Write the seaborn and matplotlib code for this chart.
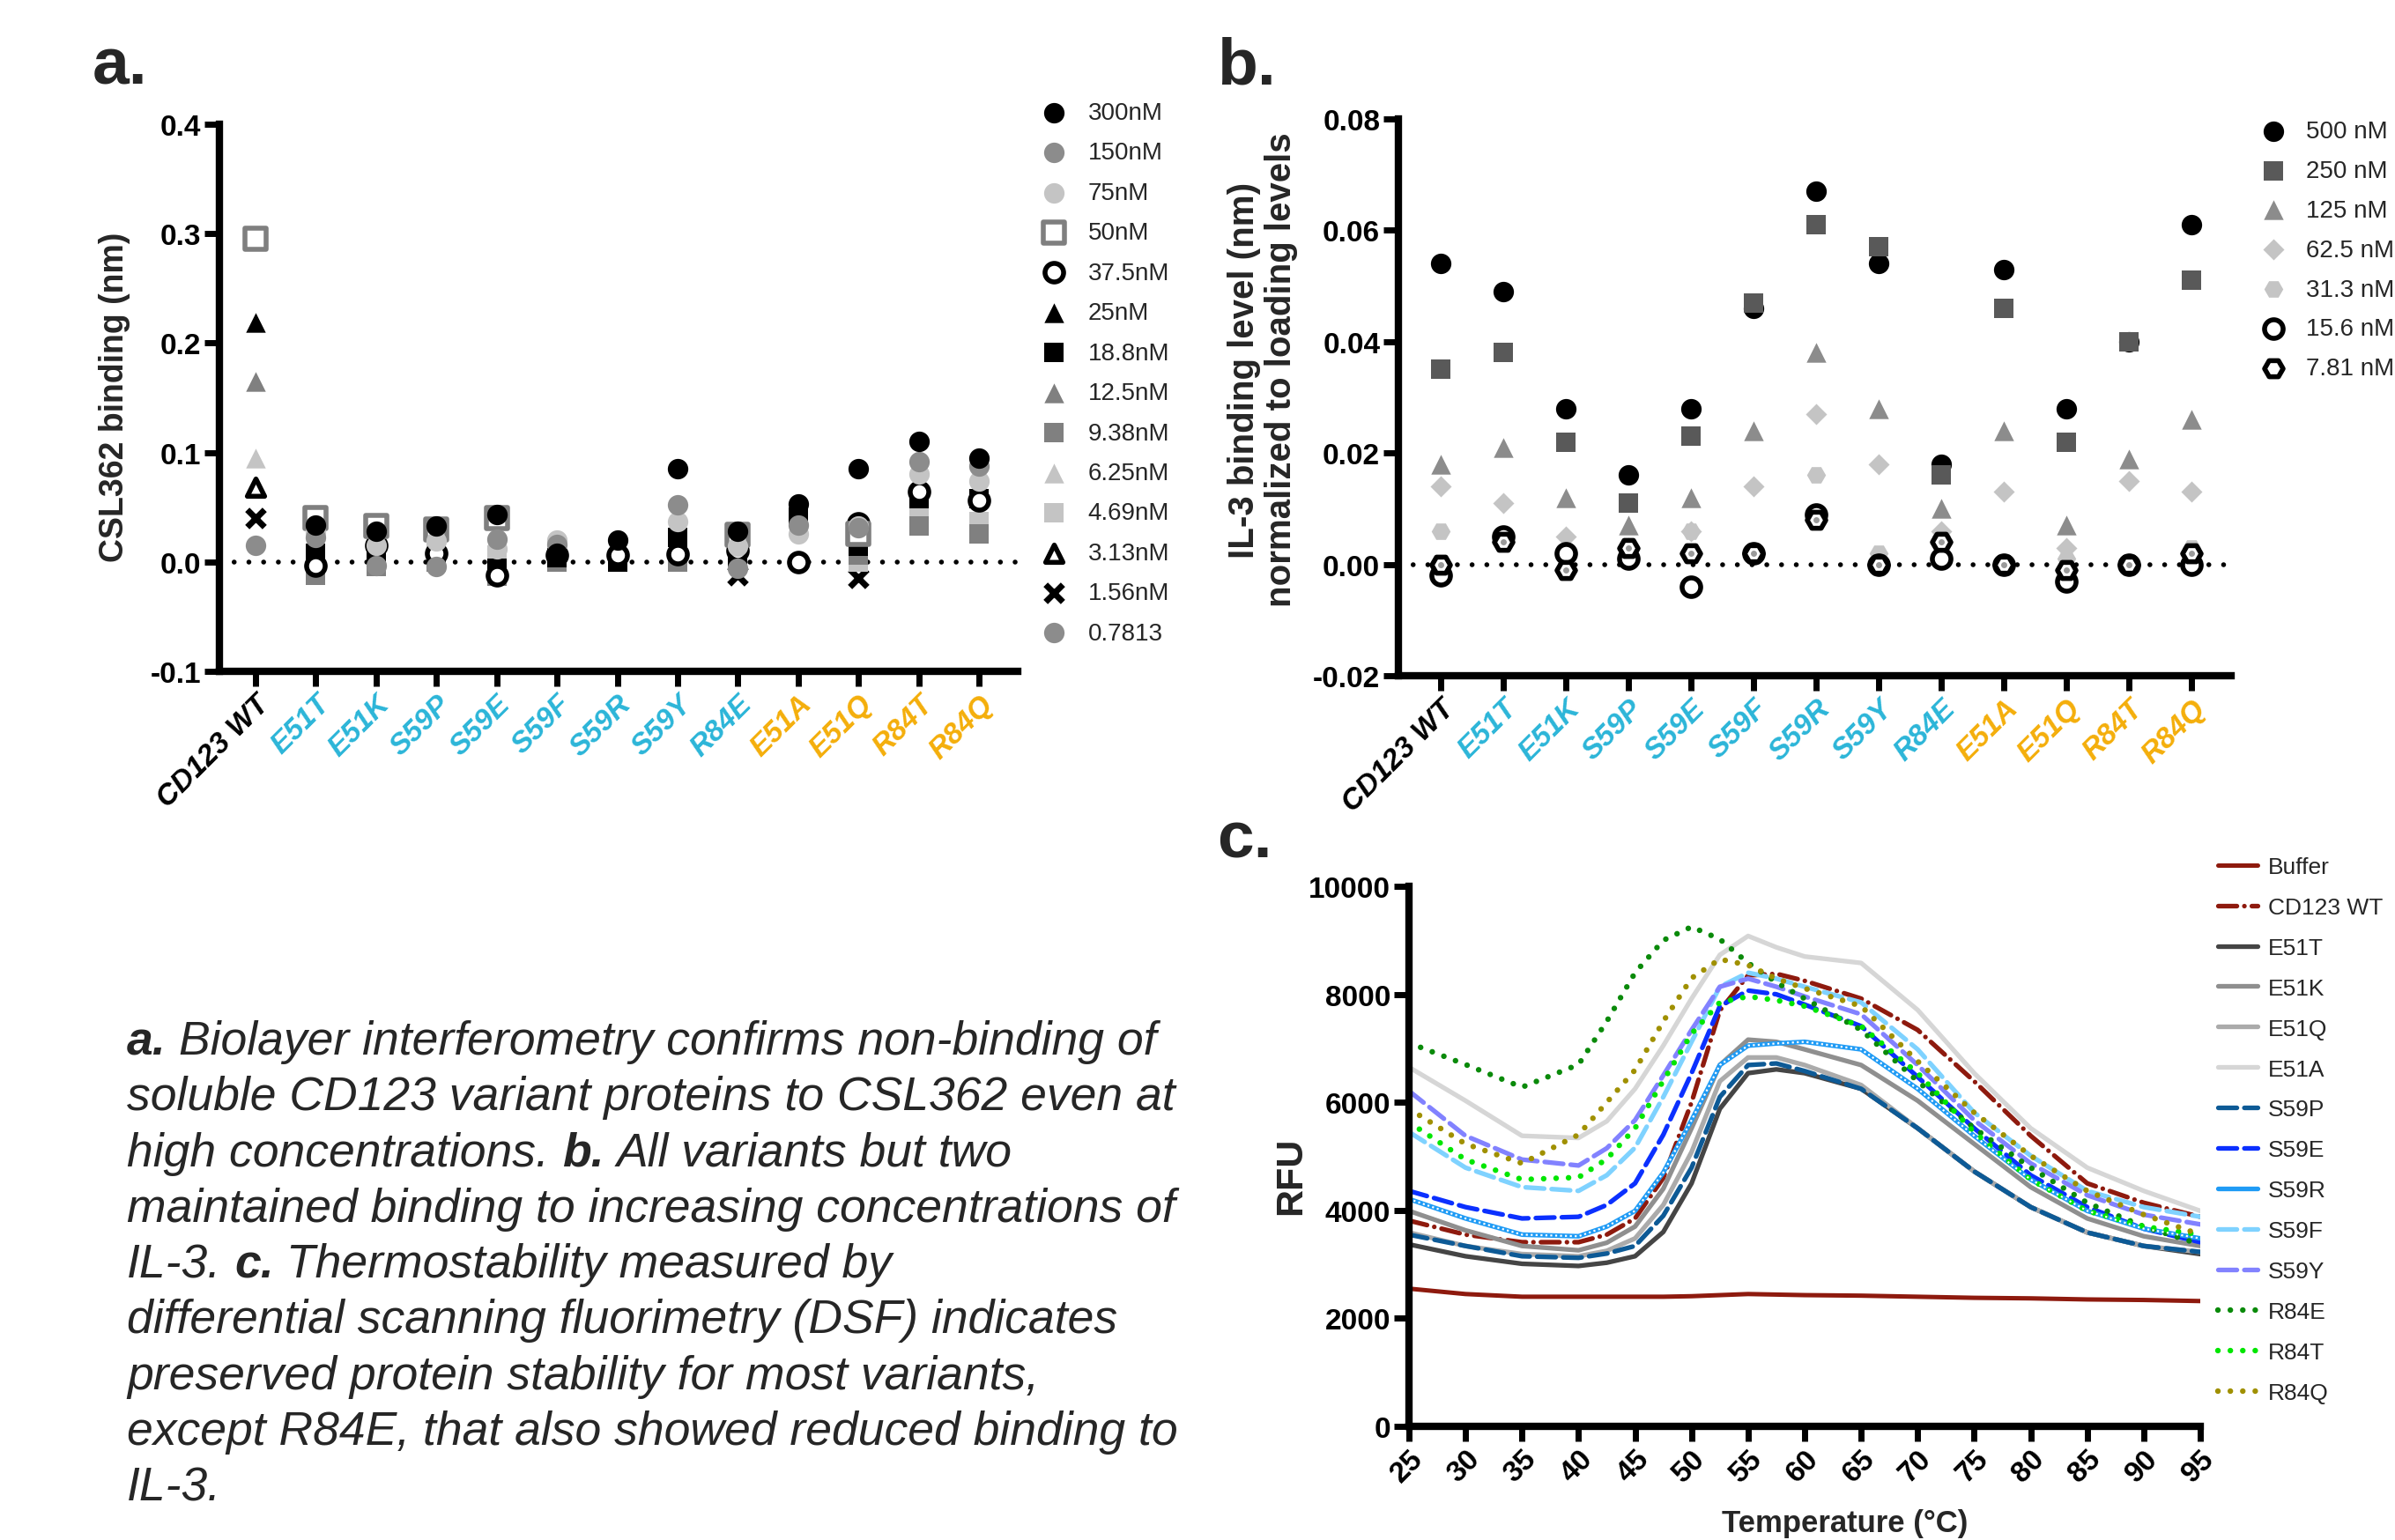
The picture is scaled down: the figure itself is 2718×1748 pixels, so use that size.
import numpy as np
import matplotlib
matplotlib.use("Agg")
import matplotlib.pyplot as plt
import seaborn as sns

nan = np.nan

# ---------------- shared categories (panels a and b) ----------------
variants = ["CD123 WT", "E51T", "E51K", "S59P", "S59E", "S59F", "S59R",
            "S59Y", "R84E", "E51A", "E51Q", "R84T", "R84Q"]

# ---------------- panel a: CSL362 binding (nm) ----------------
conc_a = ["300nM", "150nM", "75nM", "50nM", "37.5nM", "25nM", "18.8nM",
          "12.5nM", "9.38nM", "6.25nM", "4.69nM", "3.13nM", "1.56nM", "0.7813"]
bli_300nM = [nan, 0.034, 0.028, 0.033, 0.043, 0.008, 0.020, 0.085, 0.028, 0.053, 0.085, 0.110, 0.095]
bli_150nM = [nan, 0.022, -0.003, -0.004, 0.021, 0.016, nan, 0.052, -0.006, 0.034, 0.031, 0.092, 0.088]
bli_75nM = [nan, 0.027, 0.015, 0.019, 0.012, 0.020, nan, 0.037, 0.014, 0.026, 0.033, 0.080, 0.074]
bli_50nM = [0.295, 0.040, 0.033, 0.030, 0.040, nan, nan, nan, 0.025, nan, 0.026, nan, nan]
bli_37_5nM = [nan, -0.003, 0.015, 0.008, -0.012, 0.006, 0.006, 0.007, 0.010, 0.000, 0.035, 0.064, 0.056]
bli_25nM = [0.219, nan, nan, nan, nan, nan, nan, nan, nan, nan, nan, nan, nan]
bli_18_8nM = [nan, 0.008, 0.005, 0.004, -0.006, 0.004, 0.000, 0.022, 0.005, 0.041, 0.014, 0.058, 0.058]
bli_12_5nM = [0.165, nan, nan, nan, nan, nan, nan, nan, nan, nan, nan, nan, nan]
bli_9_38nM = [nan, -0.012, -0.004, 0.000, -0.013, 0.000, nan, 0.000, 0.020, nan, 0.006, 0.033, 0.026]
bli_6_25nM = [0.095, nan, nan, nan, nan, nan, nan, nan, nan, nan, nan, nan, nan]
bli_4_69nM = [nan, 0.001, 0.000, 0.010, 0.006, 0.001, nan, 0.000, 0.010, nan, 0.000, 0.045, 0.037]
bli_3_13nM = [0.068, nan, nan, nan, nan, nan, nan, nan, nan, nan, nan, nan, nan]
bli_1_56nM = [0.040, nan, nan, nan, nan, nan, nan, nan, -0.012, nan, -0.015, nan, nan]
bli_0_78nM = [0.015, nan, nan, nan, nan, nan, nan, nan, nan, nan, nan, nan, nan]
yticks_a = [-0.1, 0.0, 0.1, 0.2, 0.3, 0.4]

# ---------------- panel b: IL-3 binding level ----------------
conc_b = ["500 nM", "250 nM", "125 nM", "62.5 nM", "31.3 nM", "15.6 nM", "7.81 nM"]
il3_500nM = [0.054, 0.049, 0.028, 0.016, 0.028, 0.046, 0.067, 0.054, 0.018, 0.053, 0.028, 0.040, 0.061]
il3_250nM = [0.035, 0.038, 0.022, 0.011, 0.023, 0.047, 0.061, 0.057, 0.016, 0.046, 0.022, 0.040, 0.051]
il3_125nM = [0.018, 0.021, 0.012, 0.007, 0.012, 0.024, 0.038, 0.028, 0.010, 0.024, 0.007, 0.019, 0.026]
il3_62_5nM = [0.014, 0.011, 0.005, 0.003, 0.006, 0.014, 0.027, 0.018, 0.006, 0.013, 0.003, 0.015, 0.013]
il3_31_3nM = [0.006, 0.005, 0.002, 0.003, 0.006, 0.002, 0.016, 0.002, 0.005, 0.000, 0.001, 0.000, 0.003]
il3_15_6nM = [-0.002, 0.005, 0.002, 0.001, -0.004, 0.002, 0.009, 0.000, 0.001, 0.000, -0.003, 0.000, 0.000]
il3_7_81nM = [0.000, 0.004, -0.001, 0.003, 0.002, 0.002, 0.008, 0.000, 0.004, 0.000, -0.001, 0.000, 0.002]
yticks_b = [-0.02, 0.00, 0.02, 0.04, 0.06, 0.08]

# ---------------- panel c: DSF melt curves (RFU) ----------------
temps = [25, 30, 35, 40, 42.5, 45, 47.5, 50, 52.5, 55, 57.5, 60, 65, 70, 75, 80, 85, 90, 95]
dsf_buffer = [2550, 2450, 2400, 2400, 2400, 2400, 2400, 2410, 2430, 2450, 2440, 2430, 2420, 2400, 2380, 2370, 2350, 2340, 2320]
dsf_wt = [3810, 3550, 3410, 3410, 3550, 3850, 4600, 6000, 7700, 8350, 8380, 8250, 7920, 7340, 6390, 5380, 4500, 4140, 3880]
dsf_e51t = [3370, 3150, 3010, 2970, 3030, 3150, 3600, 4500, 5880, 6540, 6610, 6540, 6250, 5520, 4720, 4060, 3590, 3340, 3190]
dsf_e51k = [3990, 3630, 3340, 3260, 3400, 3700, 4400, 5520, 6690, 7160, 7120, 6980, 6690, 6030, 5230, 4430, 3850, 3520, 3340]
dsf_e51q = [3590, 3340, 3190, 3150, 3250, 3480, 4100, 5080, 6390, 6830, 6830, 6690, 6320, 5520, 4720, 4060, 3590, 3340, 3230]
dsf_e51a = [6650, 6030, 5380, 5340, 5650, 6250, 7050, 7920, 8730, 9080, 8870, 8700, 8580, 7710, 6540, 5520, 4790, 4360, 3990]
dsf_s59p = [3550, 3340, 3150, 3120, 3200, 3340, 3900, 4790, 6100, 6690, 6720, 6580, 6250, 5520, 4720, 4060, 3590, 3340, 3230]
dsf_s59e = [4360, 4060, 3850, 3880, 4100, 4500, 5400, 6540, 7780, 8070, 8000, 7810, 7410, 6470, 5520, 4650, 4060, 3660, 3410]
dsf_s59r = [4210, 3850, 3550, 3520, 3700, 3990, 4700, 5670, 6690, 7050, 7090, 7120, 6980, 6250, 5380, 4570, 3990, 3660, 3480]
dsf_s59f = [5450, 4790, 4430, 4360, 4650, 5160, 6100, 7120, 8140, 8400, 8290, 8140, 7850, 6980, 5810, 5010, 4360, 4060, 3880]
dsf_s59y = [6210, 5380, 4940, 4830, 5150, 5670, 6500, 7340, 8140, 8290, 8140, 7960, 7630, 6690, 5670, 4870, 4280, 3920, 3740]
dsf_r84e = [7100, 6700, 6280, 6700, 7500, 8400, 9000, 9250, 9020, 8580, 8220, 7920, 7340, 6390, 5520, 4790, 4140, 3700, 3370]
dsf_r84t = [5630, 4940, 4570, 4610, 4950, 5520, 6400, 7270, 7850, 7960, 7890, 7780, 7410, 6540, 5450, 4570, 3990, 3700, 3550]
dsf_r84q = [5880, 5230, 4870, 5400, 6000, 6600, 7500, 8300, 8650, 8540, 8290, 8110, 7780, 6760, 5810, 5010, 4360, 3920, 3550]
samples_c = ["Buffer", "CD123 WT", "E51T", "E51K", "E51Q", "E51A", "S59P",
             "S59E", "S59R", "S59F", "S59Y", "R84E", "R84T", "R84Q"]

caption_lines = [
    [("a.", True), ("Biolayer interferometry confirms non-binding of", False)],
    [("soluble CD123 variant proteins to CSL362 even at", False)],
    [("high concentrations.", False), ("b.", True), ("All variants but two", False)],
    [("maintained binding to increasing concentrations of", False)],
    [("IL-3.", False), ("c.", True), ("Thermostability measured by", False)],
    [("differential scanning fluorimetry (DSF) indicates", False)],
    [("preserved protein stability for most variants,", False)],
    [("except R84E, that also showed reduced binding to", False)],
    [("IL-3.", False)],
]

# ---------------- styling ----------------
sns.set_theme(style="ticks")
plt.rcParams["font.family"] = ["Liberation Sans", "DejaVu Sans"]
NARROW = ["Liberation Sans Narrow", "Liberation Sans", "DejaVu Sans"]
CYAN = "#2bb5d8"
ORANGE = "#f4ae0a"
label_colors = ["black"] + [CYAN] * 8 + [ORANGE] * 4

W, H = 2718, 1749
TICK_FS = 24

style_a = {
    "300nM": dict(marker="o", color="black", s=280, linewidth=0),
    "150nM": dict(marker="o", color="#8c8c8c", s=280, linewidth=0),
    "75nM": dict(marker="o", color="#c4c4c4", s=280, linewidth=0),
    "50nM": dict(marker="s", color="white", edgecolor="#7f7f7f", s=300, linewidth=4),
    "37.5nM": dict(marker="o", color="white", edgecolor="black", s=230, linewidth=4),
    "25nM": dict(marker="^", color="black", s=260, linewidth=0),
    "18.8nM": dict(marker="s", color="black", s=250, linewidth=0),
    "12.5nM": dict(marker="^", color="#808080", s=260, linewidth=0),
    "9.38nM": dict(marker="s", color="#808080", s=250, linewidth=0),
    "6.25nM": dict(marker="^", color="#c4c4c4", s=260, linewidth=0),
    "4.69nM": dict(marker="s", color="#c4c4c4", s=250, linewidth=0),
    "3.13nM": dict(marker="^", color="white", edgecolor="black", s=200, linewidth=4),
    "1.56nM": dict(marker="x", color="black", s=200, linewidth=5),
    "0.7813": dict(marker="o", color="#8c8c8c", s=280, linewidth=0),
}
series_a = [bli_300nM, bli_150nM, bli_75nM, bli_50nM, bli_37_5nM, bli_25nM, bli_18_8nM,
            bli_12_5nM, bli_9_38nM, bli_6_25nM, bli_4_69nM, bli_3_13nM, bli_1_56nM, bli_0_78nM]

style_b = {
    "500 nM": dict(marker="o", color="black", s=280, linewidth=0),
    "250 nM": dict(marker="s", color="#595959", s=260, linewidth=0),
    "125 nM": dict(marker="^", color="#8c8c8c", s=260, linewidth=0),
    "62.5 nM": dict(marker="D", color="#c4c4c4", s=150, linewidth=0),
    "31.3 nM": dict(marker="H", color="#c4c4c4", s=240, linewidth=0),
    "15.6 nM": dict(marker="o", color="white", edgecolor="black", s=230, linewidth=4),
    "7.81 nM": dict(marker="H", color="white", edgecolor="black", s=230, linewidth=4),
}
series_b = [il3_500nM, il3_250nM, il3_125nM, il3_62_5nM, il3_31_3nM, il3_15_6nM, il3_7_81nM]

DOT = (0, (0.01, 2.2))
DASH = (0, (4, 1.6))
DASHDOT = (0, (4, 1.6, 0.01, 1.6))
style_c = {
    "Buffer": dict(color="#8e1a0e", ls="-", lw=3.6),
    "CD123 WT": dict(color="#8e1a0e", ls=DASHDOT, lw=3.8),
    "E51T": dict(color="#454545", ls="-", lw=3.8),
    "E51K": dict(color="#8f8f8f", ls="-", lw=3.8),
    "E51Q": dict(color="#ababab", ls="-", lw=3.8),
    "E51A": dict(color="#d6d6d6", ls="-", lw=3.8),
    "S59P": dict(color="#0d5a96", ls=DASH, lw=3.8),
    "S59E": dict(color="#0b30ff", ls=DASH, lw=3.8),
    "S59R": dict(color="#1f9bf5", ls="-", lw=3.8),
    "S59F": dict(color="#7fd2ff", ls=DASH, lw=3.8),
    "S59Y": dict(color="#8282ff", ls=DASH, lw=3.8),
    "R84E": dict(color="#0a8a0a", ls=DOT, lw=4.6),
    "R84T": dict(color="#00e600", ls=DOT, lw=4.6),
    "R84Q": dict(color="#a09000", ls=DOT, lw=4.6),
}
series_c = [dsf_buffer, dsf_wt, dsf_e51t, dsf_e51k, dsf_e51q, dsf_e51a, dsf_s59p,
            dsf_s59e, dsf_s59r, dsf_s59f, dsf_s59y, dsf_r84e, dsf_r84t, dsf_r84q]


def axes_box(left, top, right, bottom):
    # pixel box -> figure fraction [l, b, w, h]
    return [left / W, 1 - bottom / H, (right - left) / W, (bottom - top) / H]


def finish_axes(ax):
    sns.despine(ax=ax)
    for side in ("left", "bottom"):
        ax.spines[side].set_linewidth(6)
        ax.spines[side].set_color("black")
    ax.tick_params(axis="both", width=5, length=12, labelsize=TICK_FS, pad=3,
                   color="black", labelcolor="black")
    ax.grid(False)


def zero_line(ax):
    ax.axhline(0, color="black", lw=4, ls=(0, (0.01, 3.0)),
               dash_capstyle="round", zorder=1)


def variant_ticks(ax):
    x = np.arange(len(variants))
    ax.set_xticks(x)
    ax.set_xticklabels(variants, rotation=45, ha="right", rotation_mode="anchor",
                       fontsize=TICK_FS, fontweight="bold", fontstyle="italic")
    for lab, c in zip(ax.get_xticklabels(), label_colors):
        lab.set_color(c)


fig = plt.figure(figsize=(W / 100, H / 100), dpi=100)
x_pos = np.arange(len(variants))

# ---------------- panel a ----------------
ax_a = fig.add_axes(axes_box(249, 142, 1155, 763))
zero_line(ax_a)
# highest concentration ends up on top, as in the original
for label, vals in reversed(list(zip(conc_a, series_a))):
    sns.scatterplot(x=x_pos, y=vals, ax=ax_a, label=label, zorder=3, **style_a[label])
ax_a.set_xlim(-0.6, 12.64)
ax_a.set_ylim(-0.1, 0.4)
ax_a.set_yticks(yticks_a)
ax_a.set_yticklabels([f"{v:.1f}" for v in yticks_a])
finish_axes(ax_a)
variant_ticks(ax_a)
for lab in ax_a.get_yticklabels():
    lab.set_fontfamily(NARROW)
    lab.set_fontweight("bold")
ax_a.set_xlabel("")
ax_a.text(130 / W, 1 - 451 / H, "CSL362 binding (nm)", transform=fig.transFigure,
          rotation=90, ha="center", va="center", fontsize=27, fontweight="bold")
handles, labels = ax_a.get_legend_handles_labels()
order = [labels.index(c) for c in conc_a]
ax_a.legend([handles[i] for i in order], [labels[i] for i in order], loc="upper left",
            bbox_to_anchor=(1182 / W, 1 - 116 / H),
            bbox_transform=fig.transFigure, frameon=False, fontsize=20,
            handlelength=1.0, handletextpad=0.9, labelspacing=0.7,
            borderpad=0, borderaxespad=0, scatterpoints=1)

# ---------------- panel b ----------------
ax_b = fig.add_axes(axes_box(1587, 136, 2532, 768))
zero_line(ax_b)
for label, vals in zip(conc_b, series_b):
    sns.scatterplot(x=x_pos, y=vals, ax=ax_b, label=label, zorder=3, **style_b[label])
# grey centre dot of the 7.81 nM hexagons
sns.scatterplot(x=x_pos, y=il3_7_81nM, ax=ax_b, marker="o", color="#9a9a9a",
                s=25, linewidth=0, zorder=4)
ax_b.set_xlim(-0.68, 12.63)
ax_b.set_ylim(-0.02, 0.08)
ax_b.set_yticks(yticks_b)
ax_b.set_yticklabels([f"{v:.2f}" for v in yticks_b])
finish_axes(ax_b)
variant_ticks(ax_b)
for lab in ax_b.get_yticklabels():
    lab.set_fontfamily(NARROW)
    lab.set_fontweight("bold")
ax_b.text(1433 / W, 1 - 420 / H, "IL-3 binding level (nm)\nnormalized to loading levels",
          transform=fig.transFigure, rotation=90, ha="center", va="center",
          fontsize=29, fontweight="bold", linespacing=1.12)
handles, labels = ax_b.get_legend_handles_labels()
ax_b.legend(handles[:7], labels[:7], loc="upper left",
            bbox_to_anchor=(2566 / W, 1 - 137 / H), bbox_transform=fig.transFigure,
            frameon=False, fontsize=20, handlelength=1.0, handletextpad=0.85,
            labelspacing=0.68, borderpad=0, borderaxespad=0, scatterpoints=1)

# ---------------- panel c ----------------
ax_c = fig.add_axes(axes_box(1599, 1007, 2497, 1620))
for label, vals in zip(samples_c, series_c):
    sns.lineplot(x=temps, y=vals, ax=ax_c, label=label, sort=False, estimator=None,
                 dash_capstyle="round", **style_c[label])
# white speckle inside the S59R line
sns.lineplot(x=temps, y=dsf_s59r, ax=ax_c, color="white", lw=1.6, ls=(0, (1, 1.5)),
             sort=False, estimator=None)
ax_c.set_xlim(25, 95)
ax_c.set_ylim(0, 10000)
ax_c.set_xticks(np.arange(25, 96, 5))
ax_c.set_yticks(np.arange(0, 10001, 2000))
finish_axes(ax_c)
for lab in ax_c.get_xticklabels():
    lab.set_rotation(45)
    lab.set_ha("right")
    lab.set_rotation_mode("anchor")
for lab in ax_c.get_xticklabels() + ax_c.get_yticklabels():
    lab.set_fontfamily(NARROW)
    lab.set_fontweight("bold")
ax_c.set_xlabel("")
ax_c.set_ylabel("")
ax_c.text(1465 / W, 1 - 1335 / H, "RFU", transform=fig.transFigure, rotation=90,
          ha="center", va="center", fontsize=31, fontweight="bold")
ax_c.text(2094 / W, 1 - 1730 / H, "Temperature (°C)", transform=fig.transFigure,
          ha="center", va="center", fontsize=25, fontweight="bold", family=NARROW)
handles, labels = ax_c.get_legend_handles_labels()
ax_c.legend(handles[:14], labels[:14], loc="upper left",
            bbox_to_anchor=(2517 / W, 1 - 973 / H), bbox_transform=fig.transFigure,
            frameon=False, fontsize=19, handlelength=1.7, handletextpad=0.45,
            labelspacing=0.83, borderpad=0, borderaxespad=0)

# ---------------- panel letters ----------------
for letter, px, py in [("a.", 105, 95), ("b.", 1381, 95), ("c.", 1381, 974)]:
    fig.text(px / W, 1 - py / H, letter, fontsize=54, fontweight="bold",
             family=NARROW, va="baseline", ha="left")

# ---------------- caption ----------------
CAP_FS = 38.5
renderer = fig.canvas.get_renderer()
gap = CAP_FS * 0.278 * 100 / 72
for i, runs in enumerate(caption_lines):
    px = 144.0
    py = 1197 + i * 63.3
    for txt, bold in runs:
        t = fig.text(px / W, 1 - py / H, txt, fontsize=CAP_FS, fontstyle="italic",
                     fontweight="bold" if bold else "normal", va="baseline", ha="left")
        px += t.get_window_extent(renderer).width + gap

fig.savefig("out.png", dpi=100)
